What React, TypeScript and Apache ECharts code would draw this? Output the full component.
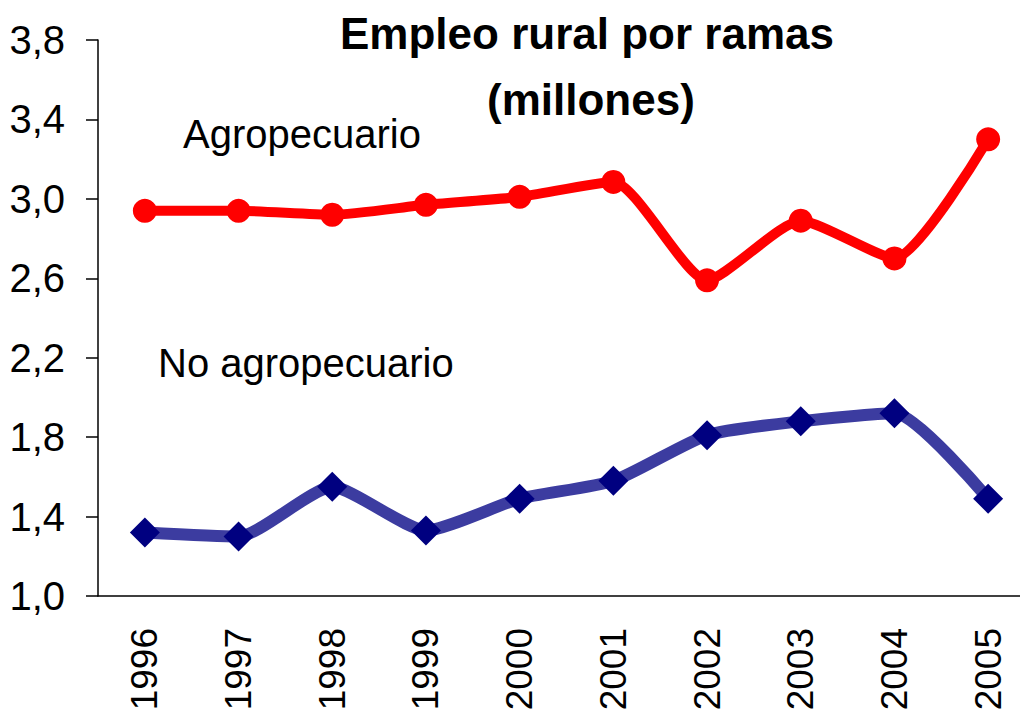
import React, { useEffect, useRef } from "react";
import * as echarts from "echarts";

const years = ["1996", "1997", "1998", "1999", "2000", "2001", "2002", "2003", "2004", "2005"];
const agropecuario = [2.94, 2.94, 2.92, 2.97, 3.01, 3.085, 2.59, 2.89, 2.7, 3.3];
const noAgropecuario = [1.32, 1.3, 1.55, 1.33, 1.49, 1.58, 1.81, 1.88, 1.92, 1.49];
const yTicks = { min: 1.0, max: 3.8, interval: 0.4 };

const FONT = "'Liberation Sans', Arial, sans-serif";

export default function App() {
  const ref = useRef<HTMLDivElement>(null);
  useEffect(() => {
    if (!ref.current) return;
    const chart = echarts.init(ref.current, undefined, { renderer: "svg" });
    chart.setOption({
      animation: false,
      backgroundColor: "#ffffff",
      grid: {
        left: 98,
        top: 40,
        bottom: 116,
        right: -15,
        containLabel: false,
        outerBoundsMode: "none",
      },
      graphic: [
        {
          type: "text",
          left: 340,
          top: 11,
          style: { text: "Empleo rural por ramas", font: "bold 44px " + FONT, fill: "#000" },
        },
        {
          type: "text",
          left: 487,
          top: 77,
          style: { text: "(millones)", font: "bold 44px " + FONT, fill: "#000" },
        },
        {
          type: "text",
          left: 183,
          top: 114,
          style: { text: "Agropecuario", font: "40px " + FONT, fill: "#000" },
        },
        {
          type: "text",
          left: 158,
          top: 343,
          style: { text: "No agropecuario", font: "40px " + FONT, fill: "#000" },
        },
      ],
      xAxis: {
        type: "category",
        data: years,
        boundaryGap: true,
        axisLine: { lineStyle: { color: "#000", width: 1.5 } },
        axisTick: { length: 13, lineStyle: { color: "#000", width: 1.5 } },
        axisLabel: {
          rotate: 90,
          margin: 32,
          fontSize: 37,
          fontFamily: FONT,
          color: "#000",
          interval: 0,
        },
        splitLine: { show: false },
      },
      yAxis: {
        type: "value",
        min: yTicks.min,
        max: yTicks.max,
        interval: yTicks.interval,
        axisLine: { show: true, lineStyle: { color: "#000", width: 1.5 } },
        axisTick: { show: true, length: 12, lineStyle: { color: "#000", width: 1.5 } },
        axisLabel: {
          margin: 33,
          fontSize: 40,
          fontFamily: FONT,
          color: "#000",
          formatter: (v: number) => v.toFixed(1).replace(".", ","),
        },
        splitLine: { show: false },
      },
      series: [
        {
          name: "Agropecuario",
          type: "line",
          data: agropecuario,
          smooth: 0.2,
          symbol: "circle",
          symbolSize: 24,
          lineStyle: { color: "#ff0000", width: 10 },
          itemStyle: { color: "#ff0000" },
        },
        {
          name: "No agropecuario",
          type: "line",
          data: noAgropecuario,
          smooth: 0.2,
          symbol: "diamond",
          symbolSize: 30,
          lineStyle: { color: "#3c3ca0", width: 12 },
          itemStyle: { color: "#000080" },
        },
      ],
    });
    return () => chart.dispose();
  }, []);
  return <div ref={ref} style={{ width: 1020, height: 712, position: "absolute", left: 0, top: 0 }} />;
}
